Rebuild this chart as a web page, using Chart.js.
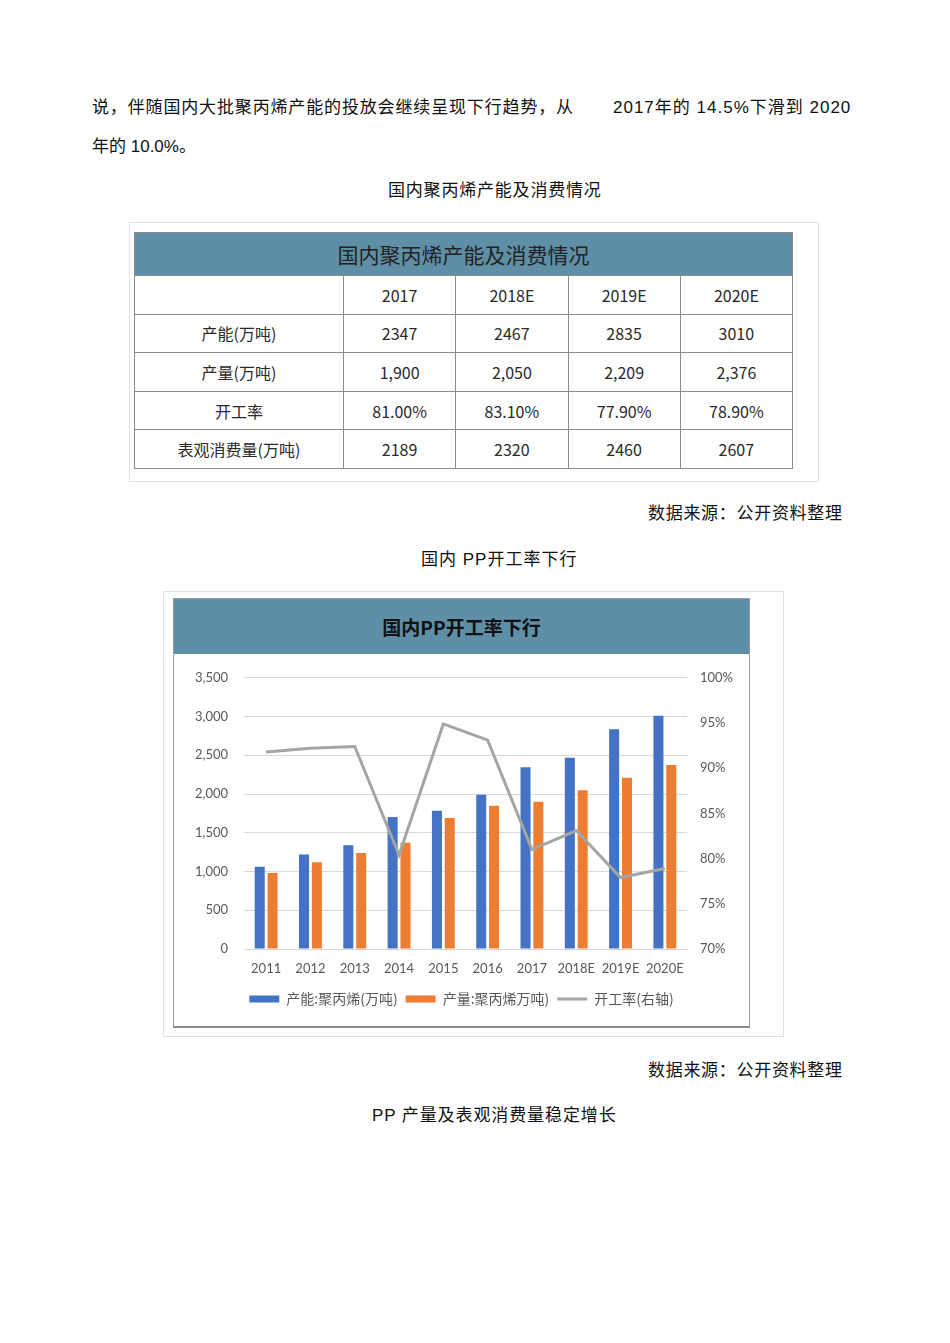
<!DOCTYPE html>
<html lang="zh">
<head>
<meta charset="UTF-8">
<title>国内PP开工率下行</title>
<script src="https://cdn.jsdelivr.net/npm/chart.js"></script>
<style>
    body { margin: 0; background: #fff; font-family: "Liberation Sans", "Noto Sans CJK SC", sans-serif; color: #111; }
    .page { position: relative; width: 950px; height: 1343px; }
    .txt { position: absolute; font-size: 17px; white-space: nowrap; line-height: 20px; }
    .tbl-frame { position: absolute; left: 129px; top: 222px; width: 688px; height: 258px; border: 1px solid #e2e2e2; }
    table.data { position: absolute; left: 4px; top: 9px; width: 659px; height: 237px; border-collapse: collapse;
        font-family: "Noto Sans CJK SC", sans-serif; color: #2a2a2a; font-size: 16px; }
    table.data td { border: 1px solid #8a8a8a; text-align: center; padding: 0; }
    table.data td.head { background: #5e8fa6; font-size: 21px; height: 42px; color: #222; }
    .chart-frame { position: absolute; left: 163px; top: 591px; width: 619px; height: 444px; border: 1px solid #e2e2e2; }
    .chart-box { position: absolute; left: 9px; top: 6px; width: 575px; height: 427px; border: 1px solid #9a9a9a; border-bottom: 2px solid #8a8a8a; }
    .chart-head { height: 55px; background: #5e8fa6; text-align: center; line-height: 55px;
        font-family: "Noto Sans CJK SC", sans-serif; font-weight: bold; font-size: 19px; color: #111; }
    .canvas-wrap { position: relative; width: 575px; height: 372px; }
</style>
</head>
<body>
<div class="page">
    <div class="txt" style="left:92px; top:98px; letter-spacing:0.85px;">说，伴随国内大批聚丙烯产能的投放会继续呈现下行趋势，从</div>
    <div class="txt" style="left:613px; top:98px; letter-spacing:1px;">2017年的 14.5%下滑到 2020</div>
    <div class="txt" style="left:92px; top:137px;">年的 10.0%。</div>

    <div class="txt" style="left:388px; top:181px; letter-spacing:0.8px;">国内聚丙烯产能及消费情况</div>

    <div class="tbl-frame">
        <table class="data">
            <tr><td class="head" colspan="5">国内聚丙烯产能及消费情况</td></tr>
            <tr><td style="width:208px"></td><td>2017</td><td>2018E</td><td>2019E</td><td>2020E</td></tr>
            <tr><td>产能(万吨)</td><td>2347</td><td>2467</td><td>2835</td><td>3010</td></tr>
            <tr><td>产量(万吨)</td><td>1,900</td><td>2,050</td><td>2,209</td><td>2,376</td></tr>
            <tr><td>开工率</td><td>81.00%</td><td>83.10%</td><td>77.90%</td><td>78.90%</td></tr>
            <tr><td>表观消费量(万吨)</td><td>2189</td><td>2320</td><td>2460</td><td>2607</td></tr>
        </table>
    </div>

    <div class="txt" style="left:648px; top:504px; letter-spacing:0.7px;">数据来源：公开资料整理</div>
    <div class="txt" style="left:421px; top:550px; letter-spacing:1px;">国内 PP开工率下行</div>

    <div class="chart-frame">
        <div class="chart-box">
            <div class="chart-head">国内PP开工率下行</div>
            <div class="canvas-wrap"><canvas id="ppChart"></canvas></div>
        </div>
    </div>

    <div class="txt" style="left:648px; top:1061px; letter-spacing:0.7px;">数据来源：公开资料整理</div>
    <div class="txt" style="left:372px; top:1106px; letter-spacing:0.9px;">PP 产量及表观消费量稳定增长</div>
</div>

<script>
    const years = ['2011', '2012', '2013', '2014', '2015', '2016', '2017', '2018E', '2019E', '2020E'];
    const capacity = [1060, 1220, 1340, 1705, 1785, 1990, 2347, 2467, 2835, 3010];
    const output = [980, 1120, 1240, 1372, 1690, 1850, 1900, 2050, 2209, 2376];
    const utilization = [91.8, 92.2, 92.4, 80.4, 94.9, 93.1, 81.0, 83.1, 77.9, 78.9];

    const tickFont = { family: 'Lato, "Liberation Sans", sans-serif', size: 13 };
    const gridColor = '#d9d9d9';

    new Chart(document.getElementById('ppChart'), {
        type: 'bar',
        data: {
            labels: years,
            datasets: [
                {
                    label: '产能:聚丙烯(万吨)',
                    data: capacity,
                    backgroundColor: '#4472c4',
                    pointStyle: 'rect',
                    yAxisID: 'y',
                    order: 1,
                    categoryPercentage: 0.58,
                    barPercentage: 0.78
                },
                {
                    label: '产量:聚丙烯万吨)',
                    data: output,
                    backgroundColor: '#ed7d31',
                    pointStyle: 'rect',
                    yAxisID: 'y',
                    order: 1,
                    categoryPercentage: 0.58,
                    barPercentage: 0.78
                },
                {
                    type: 'line',
                    label: '开工率(右轴)',
                    data: utilization,
                    borderColor: '#a5a5a5',
                    backgroundColor: '#a5a5a5',
                    borderWidth: 3,
                    pointRadius: 0,
                    pointStyle: 'line',
                    tension: 0,
                    yAxisID: 'y1',
                    order: 0
                }
            ]
        },
        options: {
            responsive: true,
            maintainAspectRatio: false,
            animation: false,
            layout: { padding: { top: 22, bottom: 10, left: 0, right: 0 } },
            plugins: {
                title: { display: false },
                tooltip: { enabled: false },
                legend: {
                    position: 'bottom',
                    labels: {
                        usePointStyle: true,
                        pointStyleWidth: 30,
                        boxHeight: 7,
                        padding: 8,
                        color: '#595959',
                        font: { family: '"Noto Sans CJK SC", sans-serif', size: 14 },
                        sort: (a, b) => a.datasetIndex - b.datasetIndex
                    }
                }
            },
            scales: {
                x: {
                    grid: { display: false, drawTicks: false },
                    border: { color: gridColor },
                    ticks: { color: '#595959', font: tickFont, padding: 12, maxRotation: 0, autoSkip: false },
                    afterFit: s => { s.height = 35; }
                },
                y: {
                    position: 'left',
                    min: 0,
                    max: 3500,
                    ticks: {
                        stepSize: 500,
                        color: '#595959',
                        font: tickFont,
                        padding: 16,
                        callback: v => v.toLocaleString('en-US')
                    },
                    grid: { color: gridColor, drawTicks: false },
                    border: { display: false },
                    afterFit: s => { s.width = 70; }
                },
                y1: {
                    position: 'right',
                    min: 70,
                    max: 100,
                    ticks: {
                        stepSize: 5,
                        color: '#595959',
                        font: tickFont,
                        padding: 13,
                        callback: v => v + '%'
                    },
                    grid: { display: false, drawTicks: false },
                    border: { display: false },
                    afterFit: s => { s.width = 62; }
                }
            }
        }
    });
</script>
</body>
</html>
